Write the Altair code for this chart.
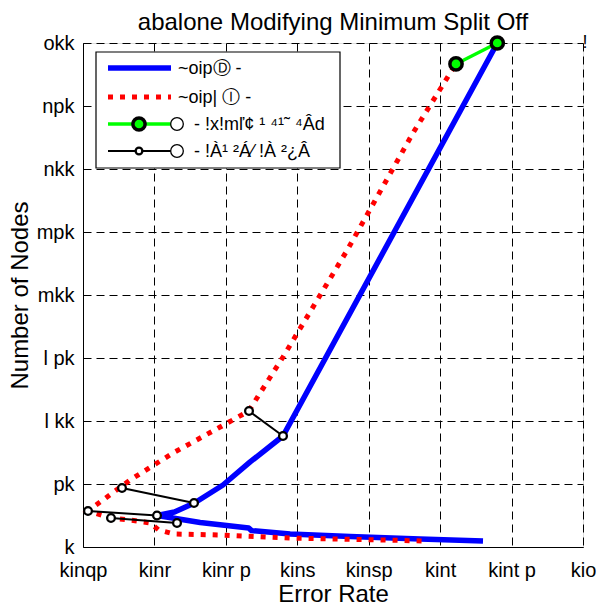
import altair as alt
import pandas as pd

# ---- axis ticks (labels are shown exactly as in the reference) ----
x_ticks = [0.065, 0.07, 0.075, 0.08, 0.085, 0.09, 0.095, 0.1]
x_tick_labels = ["kinqp", "kinr", "kinr p", "kins", "kinsp", "kint", "kint p", "kio"]
y_ticks = [0, 50, 100, 150, 200, 250, 300, 350, 400]
y_tick_labels = ["k", "pk", "l kk", "l pk", "mkk", "mpk", "nkk", "npk", "okk"]

# ---- series ----
blue_x = [0.0930, 0.0886, 0.0837, 0.0795, 0.0768, 0.0766, 0.0732, 0.0702,
          0.0714, 0.0728, 0.0748, 0.0767, 0.0790, 0.0940]
blue_y = [4.8, 6.4, 8.3, 10.3, 13.0, 15.1, 19.5, 25.0,
          27.8, 34.9, 49.2, 67.5, 88.1, 400.0]

red_x = [0.0887, 0.0858, 0.0797, 0.0746, 0.0714, 0.0703, 0.0697, 0.0683, 0.0670,
         0.06535, 0.0683, 0.0713, 0.0746, 0.0766, 0.0790, 0.0835, 0.0881, 0.0911]
red_y = [4.8, 5.6, 7.1, 9.5, 10.3, 13.5, 19.0, 21.4, 23.0,
         28.6, 53.2, 74.6, 95.2, 107.9, 150.8, 235.7, 328.6, 383.4]

pair_red_x = [0.06535, 0.06773, 0.06696, 0.07662]
pair_red_y = [28.6, 46.8, 23.0, 107.9]
pair_blue_x = [0.07018, 0.07277, 0.07158, 0.0790]
pair_blue_y = [25.0, 34.9, 19.0, 88.1]

green_x = [0.09111, 0.0940]
green_y = [383.4, 400.0]

legend_labels = ["~oipⒹ -", "~oip| Ⓘ -", "- !x!mľ¢ ¹ ⁴¹˜ ⁴Âd", "- !À¹ ²Á⁄ !À ²¿Â"]
title_text = "abalone Modifying Minimum Split Off"
x_title = "Error Rate"
y_title = "Number of Nodes"
corner_mark = "!"

FONT = "Liberation Sans"

# ---- tables ----
blue_df = pd.DataFrame({"x": blue_x, "y": blue_y, "o": range(len(blue_x))})
red_df = pd.DataFrame({"x": red_x, "y": red_y, "o": range(len(red_x))})
pairs_rows = []
for i in range(len(pair_red_x)):
    pairs_rows.append({"x": pair_red_x[i], "y": pair_red_y[i], "p": i, "o": 0})
    pairs_rows.append({"x": pair_blue_x[i], "y": pair_blue_y[i], "p": i, "o": 1})
pairs_df = pd.DataFrame(pairs_rows)
green_df = pd.DataFrame({"x": green_x, "y": green_y, "o": range(len(green_x))})
one = pd.DataFrame({"k": [0]})


def lookup_expr(values, labels):
    vals = "[" + ",".join(repr(v) for v in values) + "]"
    labs = "[" + ",".join("'" + s + "'" for s in labels) + "]"
    return f"{labs}[indexof({vals}, datum.value)]"


grid_dash = [8, 5]
xscale = alt.Scale(domain=[0.065, 0.1], nice=False, zero=False)
yscale = alt.Scale(domain=[0, 400], nice=False, zero=False)

xaxis = alt.Axis(
    values=x_ticks, labelExpr=lookup_expr(x_ticks, x_tick_labels),
    title=x_title, grid=True, gridDash=grid_dash, gridColor="black", gridOpacity=1,
    gridWidth=1, ticks=False, tickSize=0, domainColor="black", domainWidth=1,
    labelFont=FONT, labelFontSize=20, labelColor="black", labelBaseline="alphabetic",
    labelPadding=29, labelFlush=False, labelOverlap=False,
    titleFont=FONT, titleFontSize=24, titleFontWeight="normal", titleColor="black",
    titleBaseline="alphabetic", titleY=54,
)
yaxis = alt.Axis(
    values=y_ticks, labelExpr=lookup_expr(y_ticks, y_tick_labels),
    title=y_title, grid=True, gridDash=grid_dash, gridColor="black", gridOpacity=1,
    gridWidth=1, ticks=False, tickSize=0, domainColor="black", domainWidth=1,
    labelFont=FONT, labelFontSize=20, labelColor="black", labelPadding=9,
    labelFlush=False, labelOverlap=False,
    titleFont=FONT, titleFontSize=24, titleFontWeight="normal", titleColor="black",
    titleBaseline="alphabetic", titleX=-56, titleY=252, titleAngle=270,
)

X = alt.X("x:Q", scale=xscale, axis=xaxis)
Y = alt.Y("y:Q", scale=yscale, axis=yaxis)
Xn = alt.X("x:Q", scale=xscale)
Yn = alt.Y("y:Q", scale=yscale)

blue = alt.Chart(blue_df).mark_line(color="#0000ff", strokeWidth=5.5, strokeJoin="round").encode(
    x=X, y=Y, order="o:Q")
red = alt.Chart(red_df).mark_line(color="#ff0000", strokeWidth=5, strokeDash=[5, 7],
                                  strokeCap="butt").encode(x=Xn, y=Yn, order="o:Q")
pair_lines = alt.Chart(pairs_df).mark_line(color="black", strokeWidth=2).encode(
    x=Xn, y=Yn, detail="p:N", order="o:Q")
pair_pts = alt.Chart(pairs_df).mark_point(shape="circle", filled=False, fill="white", fillOpacity=1,
                                          stroke="black", strokeWidth=2.3, size=60, opacity=1).encode(
    x=Xn, y=Yn)
green_line = alt.Chart(green_df).mark_line(color="#00ff00", strokeWidth=3.3).encode(
    x=Xn, y=Yn, order="o:Q")
green_pts = alt.Chart(green_df).mark_point(shape="circle", filled=True, fill="#00ff00", fillOpacity=1,
                                           stroke="black", strokeWidth=3.5, size=150, opacity=1).encode(
    x=Xn, y=Yn)

# ---- title and corner mark as text (plot-area pixel positions) ----
title_mark = alt.Chart(one).mark_text(align="center", baseline="alphabetic", font=FONT,
                                      fontSize=24, color="black").encode(
    x=alt.value(250), y=alt.value(-13), text=alt.value(title_text))
corner = alt.Chart(one).mark_text(align="center", baseline="middle", font=FONT,
                                  fontSize=18, color="black").encode(
    x=alt.value(502), y=alt.value(0), text=alt.value(corner_mark))

# ---- manual legend (positions in plot-area pixels) ----
row_y = [25, 54, 81, 108]
lx0, lx1, lmid = 25, 88, 56

leg_box = alt.Chart(one).mark_rect(fill="white", stroke="black", strokeWidth=1.2).encode(
    x=alt.value(13), x2=alt.value(257), y=alt.value(9), y2=alt.value(125))
leg_blue = alt.Chart(one).mark_rule(color="#0000ff", strokeWidth=5.5).encode(
    x=alt.value(lx0), x2=alt.value(lx1), y=alt.value(row_y[0]))
leg_red = alt.Chart(one).mark_rule(color="#ff0000", strokeWidth=5, strokeDash=[5, 7]).encode(
    x=alt.value(lx0), x2=alt.value(lx1), y=alt.value(row_y[1]))
leg_green = alt.Chart(one).mark_rule(color="#00ff00", strokeWidth=3.3).encode(
    x=alt.value(lx0), x2=alt.value(lx1), y=alt.value(row_y[2]))
leg_green_pt = alt.Chart(one).mark_point(shape="circle", filled=True, fill="#00ff00", stroke="black",
                                         strokeWidth=3.5, size=150, opacity=1).encode(
    x=alt.value(lmid), y=alt.value(row_y[2]))
leg_black = alt.Chart(one).mark_rule(color="black", strokeWidth=2).encode(
    x=alt.value(lx0), x2=alt.value(lx1), y=alt.value(row_y[3]))
leg_black_pt = alt.Chart(one).mark_point(shape="circle", filled=False, fill="white", fillOpacity=1,
                                         stroke="black", strokeWidth=2.3, size=45, opacity=1).encode(
    x=alt.value(lmid), y=alt.value(row_y[3]))
leg_open = [
    alt.Chart(one).mark_point(shape="circle", filled=False, fill="white", fillOpacity=1,
                              stroke="black", strokeWidth=1.3, size=160, opacity=1).encode(
        x=alt.value(94), y=alt.value(row_y[i]))
    for i in (2, 3)
]
leg_texts = [
    alt.Chart(one).mark_text(align="left", baseline="middle", font=FONT, fontSize=18,
                             color="black").encode(
        x=alt.value(95 if i < 2 else 111), y=alt.value(row_y[i] + 1),
        text=alt.value(legend_labels[i]))
    for i in range(4)
]

chart = alt.layer(
    blue, red, pair_lines, pair_pts, green_line, green_pts,
    leg_box, leg_blue, leg_red, leg_green, leg_green_pt, leg_black, leg_black_pt,
    *leg_open, *leg_texts, title_mark, corner,
).properties(
    width=500, height=504,
    autosize=alt.AutoSizeParams(type="none"),
    padding={"left": 83, "top": 43, "right": 17, "bottom": 58},
).configure_view(strokeWidth=0).configure(background="white")

chart.save("out.html", embed_options={"renderer": "svg", "actions": False})
